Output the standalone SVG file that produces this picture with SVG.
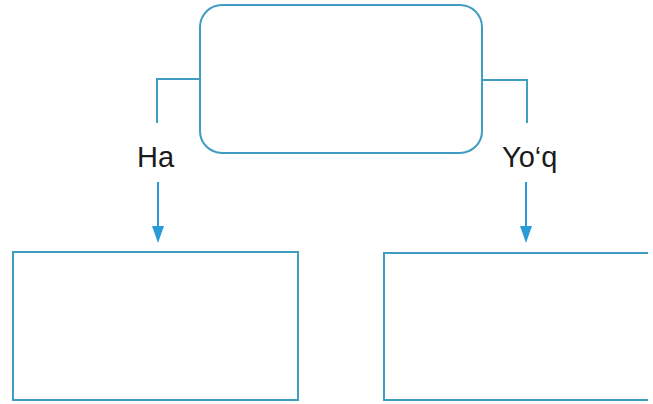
<svg xmlns="http://www.w3.org/2000/svg" width="653" height="404" viewBox="0 0 653 404">
<style>
.box{fill:none;stroke:#3f9dc2;stroke-width:2}
.con{fill:none;stroke:#3f9dc2;stroke-width:2}
.arr{fill:none;stroke:#2b9bd8;stroke-width:2}
.lbl{font-family:"Liberation Sans",Arial,sans-serif;font-size:29px;fill:#1a1a1a}
</style>
<defs>
<marker id="ah" viewBox="0 0 12 16" refX="6" refY="16" markerWidth="12" markerHeight="16" markerUnits="userSpaceOnUse" orient="auto-start-reverse">
<path d="M0,0 L12,0 L6,16 Z" fill="#2b9bd8"/>
</marker>
</defs>
<rect width="653" height="404" fill="#ffffff"/>
<g id="top"><rect class="box" x="200" y="5" width="282" height="148" rx="22" ry="22"/></g>
<g id="left"><rect class="box" x="13" y="252" width="285" height="148"/></g>
<g id="right"><path class="box" d="M648,253 L384,253 L384,400 L648,400"/></g>
<g id="connectors">
<path class="con" d="M200,79 L157,79 L157,123"/>
<path class="con" d="M482,80 L527,80 L527,123"/>
<line class="arr" x1="158" y1="182" x2="158" y2="226"/>
<path d="M152,226 L164,226 L158,243 Z" fill="#2b9bd8"/>
<line class="arr" x1="526" y1="182" x2="526" y2="226"/>
<path d="M520,226 L532,226 L526,243 Z" fill="#2b9bd8"/>
<text class="lbl" x="137" y="167">Ha</text>
<text class="lbl" x="502" y="167">Yo‘q</text>
</g>
</svg>
